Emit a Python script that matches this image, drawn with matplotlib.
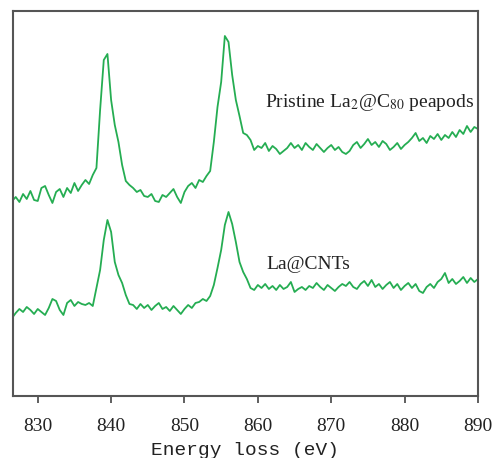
import numpy as np
import matplotlib.pyplot as plt

plt.rcParams["mathtext.fontset"] = "stix"

# Energy axis (eV), sampled every 0.5 eV
energy = np.arange(826.5, 890.01, 0.5)

# Pristine La2@C80 peapods (arbitrary units, offset upward)
pristine = [
    199, 203, 198, 206, 201, 209, 200, 199, 212, 214, 205, 197, 208, 211, 203, 212,
    207, 217, 209, 215, 220, 216, 225, 232, 290, 340, 346, 300, 275, 258, 235, 219,
    215, 212, 208, 210, 204, 203, 206, 199, 198, 205, 203, 207, 211, 203, 197, 208,
    214, 217, 212, 220, 218, 224, 229, 258, 293, 318, 364, 358, 325, 300, 284, 267,
    265, 260, 250, 254, 252, 257, 249, 254, 251, 246, 249, 252, 257, 252, 255, 250,
    257, 253, 250, 256, 252, 248, 252, 255, 250, 253, 248, 246, 249, 255, 258, 252,
    256, 261, 255, 258, 253, 259, 256, 250, 253, 257, 251, 255, 258, 262, 267, 259,
    262, 257, 264, 261, 266, 260, 265, 262, 268, 263, 270, 266, 274, 268, 273, 271,
]

# La@CNTs
la_cnt = [
    82, 87, 91, 88, 93, 90, 86, 91, 88, 85, 92, 101, 99, 90, 85, 97,
    100, 94, 98, 96, 95, 97, 94, 112, 130, 160, 180, 168, 138, 125, 117, 105,
    96, 95, 91, 96, 92, 95, 90, 94, 97, 91, 93, 89, 94, 90, 86, 91,
    95, 92, 97, 98, 101, 99, 104, 115, 132, 150, 175, 188, 176, 158, 138, 128,
    121, 112, 110, 115, 112, 116, 111, 114, 110, 115, 111, 113, 118, 108, 111, 113,
    110, 114, 112, 117, 113, 110, 115, 112, 109, 113, 116, 114, 118, 113, 111, 116,
    119, 114, 120, 113, 116, 111, 115, 118, 112, 116, 110, 114, 117, 112, 116, 109,
    107, 113, 116, 112, 118, 121, 127, 117, 121, 116, 119, 123, 117, 122, 118, 121,
]

green = "#25ad52"

fig = plt.figure(figsize=(4.92, 4.58), dpi=100)
ax = fig.add_axes([0.026, 0.1354, 0.9455, 0.8406])

ax.plot(energy, pristine, color=green, lw=1.3)
ax.plot(energy, la_cnt, color=green, lw=1.3)

ax.set_xlim(826.6, 890)
ax.set_ylim(4, 389)
ax.set_xticks([830, 840, 850, 860, 870, 880, 890])
ax.set_yticks([])
ax.tick_params(axis="x", direction="out", length=5, width=1.2, color="#444444",
               labelsize=14, pad=11)
for lab in ax.get_xticklabels():
    lab.set_fontfamily("Liberation Serif")
    lab.set_color("#222222")

for sp in ax.spines.values():
    sp.set_color("#555555")
    sp.set_linewidth(1.5)

ax.set_xlabel("Energy loss (eV)", family="Liberation Mono", fontsize=14,
              color="#222222", labelpad=5)

ax.text(861.0, 297, r"Pristine La$_2$@C$_{80}$ peapods", family="Liberation Serif",
        fontsize=14, color="#222222", va="center")
ax.text(861.2, 135, "La@CNTs", family="Liberation Serif",
        fontsize=14, color="#222222", va="center")

fig.savefig("out.png", dpi=100)
